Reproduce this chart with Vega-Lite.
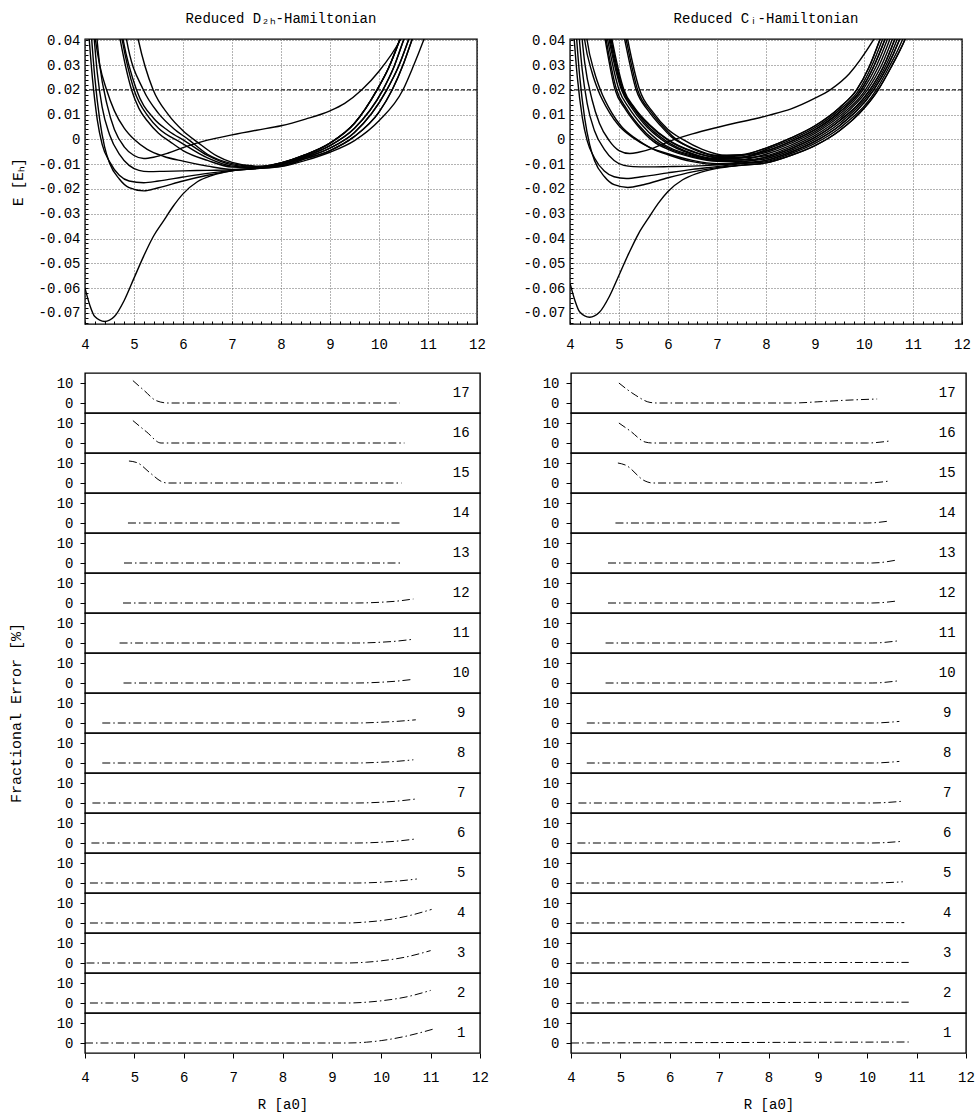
{
  "$schema": "https://vega.github.io/schema/vega-lite/v6.json",
  "background": "white",
  "padding": {"left": 8, "top": 11, "right": 5, "bottom": 5},
  "config": {
    "font": "Liberation Mono",
    "view": {"stroke": "black", "strokeWidth": 1.4},
    "axis": {"labelFont": "Liberation Mono", "labelFontSize": 14, "labelColor": "black", "titleFont": "Liberation Mono", "titleFontSize": 14, "titleFontWeight": "normal", "titleColor": "black", "tickColor": "black", "domain": false, "grid": false, "labelOverlap": false, "labelFlush": false},
    "header": {"titleFont": "Liberation Mono", "titleFontSize": 15, "titleFontWeight": "normal", "titleColor": "black"},
    "title": {"font": "Liberation Mono", "fontSize": 14, "fontWeight": "normal", "color": "black"}
  },
  "datasets": {
    "curves": [
      {"panel":"D","curve":"g","R":4,"E":-0.06},{"panel":"D","curve":"g","R":4.1,"E":-0.067},{"panel":"D","curve":"g","R":4.2,"E":-0.0715},{"panel":"D","curve":"g","R":4.4,"E":-0.0735},{"panel":"D","curve":"g","R":4.6,"E":-0.0715},{"panel":"D","curve":"g","R":4.8,"E":-0.065},{"panel":"D","curve":"g","R":5,"E":-0.056},{"panel":"D","curve":"g","R":5.2,"E":-0.047},{"panel":"D","curve":"g","R":5.4,"E":-0.039},{"panel":"D","curve":"g","R":5.6,"E":-0.033},{"panel":"D","curve":"g","R":5.8,"E":-0.027},{"panel":"D","curve":"g","R":6,"E":-0.022},{"panel":"D","curve":"g","R":6.3,"E":-0.017},{"panel":"D","curve":"g","R":6.6,"E":-0.0145},{"panel":"D","curve":"g","R":7,"E":-0.0127},{"panel":"D","curve":"g","R":7.5,"E":-0.0118},{"panel":"D","curve":"g","R":8,"E":-0.011},{"panel":"D","curve":"g","R":8.5,"E":-0.0085},{"panel":"D","curve":"g","R":9,"E":-0.0052},{"panel":"D","curve":"g","R":9.5,"E":-0.0005},{"panel":"D","curve":"g","R":10,"E":0.0075},{"panel":"D","curve":"g","R":10.49,"E":0.02},{"panel":"D","curve":"g","R":10.7,"E":0.0295},{"panel":"D","curve":"g","R":10.91,"E":0.04},{"panel":"D","curve":"g","R":11.2,"E":0.056},
      {"panel":"D","curve":"c2","R":4.1,"E":0.05},{"panel":"D","curve":"c2","R":4.2,"E":0.025},{"panel":"D","curve":"c2","R":4.3,"E":0.008},{"panel":"D","curve":"c2","R":4.4,"E":-0.003},{"panel":"D","curve":"c2","R":4.5,"E":-0.0095},{"panel":"D","curve":"c2","R":4.7,"E":-0.016},{"panel":"D","curve":"c2","R":4.9,"E":-0.0195},{"panel":"D","curve":"c2","R":5.2,"E":-0.0208},{"panel":"D","curve":"c2","R":5.5,"E":-0.0195},{"panel":"D","curve":"c2","R":6,"E":-0.0168},{"panel":"D","curve":"c2","R":6.5,"E":-0.0145},{"panel":"D","curve":"c2","R":7,"E":-0.0127},{"panel":"D","curve":"c2","R":7.5,"E":-0.0118},{"panel":"D","curve":"c2","R":8,"E":-0.0107},{"panel":"D","curve":"c2","R":8.5,"E":-0.0078},{"panel":"D","curve":"c2","R":9,"E":-0.0045},{"panel":"D","curve":"c2","R":9.5,"E":0.0012},{"panel":"D","curve":"c2","R":10,"E":0.011},{"panel":"D","curve":"c2","R":10.27,"E":0.02},{"panel":"D","curve":"c2","R":10.5,"E":0.0305},{"panel":"D","curve":"c2","R":10.67,"E":0.04},{"panel":"D","curve":"c2","R":11,"E":0.059},
      {"panel":"D","curve":"c3","R":4.05,"E":0.05},{"panel":"D","curve":"c3","R":4.15,"E":0.025},{"panel":"D","curve":"c3","R":4.25,"E":0.008},{"panel":"D","curve":"c3","R":4.35,"E":-0.002},{"panel":"D","curve":"c3","R":4.5,"E":-0.009},{"panel":"D","curve":"c3","R":4.7,"E":-0.0145},{"panel":"D","curve":"c3","R":4.9,"E":-0.0168},{"panel":"D","curve":"c3","R":5.2,"E":-0.0175},{"panel":"D","curve":"c3","R":5.5,"E":-0.0168},{"panel":"D","curve":"c3","R":6,"E":-0.0152},{"panel":"D","curve":"c3","R":6.5,"E":-0.0137},{"panel":"D","curve":"c3","R":7,"E":-0.0125},{"panel":"D","curve":"c3","R":7.5,"E":-0.0116},{"panel":"D","curve":"c3","R":8,"E":-0.0103},{"panel":"D","curve":"c3","R":8.5,"E":-0.0073},{"panel":"D","curve":"c3","R":9,"E":-0.0035},{"panel":"D","curve":"c3","R":9.5,"E":0.0028},{"panel":"D","curve":"c3","R":10.16,"E":0.02},{"panel":"D","curve":"c3","R":10.4,"E":0.0295},{"panel":"D","curve":"c3","R":10.6,"E":0.04},{"panel":"D","curve":"c3","R":10.9,"E":0.057},
      {"panel":"D","curve":"c4","R":4.15,"E":0.05},{"panel":"D","curve":"c4","R":4.25,"E":0.027},{"panel":"D","curve":"c4","R":4.35,"E":0.013},{"panel":"D","curve":"c4","R":4.5,"E":0.002},{"panel":"D","curve":"c4","R":4.7,"E":-0.006},{"panel":"D","curve":"c4","R":4.9,"E":-0.0105},{"panel":"D","curve":"c4","R":5.1,"E":-0.0125},{"panel":"D","curve":"c4","R":5.3,"E":-0.013},{"panel":"D","curve":"c4","R":5.6,"E":-0.0129},{"panel":"D","curve":"c4","R":6,"E":-0.0127},{"panel":"D","curve":"c4","R":6.5,"E":-0.0125},{"panel":"D","curve":"c4","R":7,"E":-0.0123},{"panel":"D","curve":"c4","R":7.5,"E":-0.0117},{"panel":"D","curve":"c4","R":8,"E":-0.01},{"panel":"D","curve":"c4","R":8.5,"E":-0.0068},{"panel":"D","curve":"c4","R":9,"E":-0.0025},{"panel":"D","curve":"c4","R":9.5,"E":0.0045},{"panel":"D","curve":"c4","R":10.08,"E":0.02},{"panel":"D","curve":"c4","R":10.3,"E":0.029},{"panel":"D","curve":"c4","R":10.5,"E":0.04},{"panel":"D","curve":"c4","R":10.8,"E":0.057},
      {"panel":"D","curve":"c5","R":4.2,"E":0.05},{"panel":"D","curve":"c5","R":4.3,"E":0.03},{"panel":"D","curve":"c5","R":4.45,"E":0.014},{"panel":"D","curve":"c5","R":4.6,"E":0.004},{"panel":"D","curve":"c5","R":4.8,"E":-0.003},{"panel":"D","curve":"c5","R":5,"E":-0.0065},{"panel":"D","curve":"c5","R":5.2,"E":-0.0077},{"panel":"D","curve":"c5","R":5.4,"E":-0.0072},{"panel":"D","curve":"c5","R":5.7,"E":-0.0055},{"panel":"D","curve":"c5","R":6,"E":-0.0033},{"panel":"D","curve":"c5","R":6.5,"E":-0.0003},{"panel":"D","curve":"c5","R":7,"E":0.0018},{"panel":"D","curve":"c5","R":7.5,"E":0.0037},{"panel":"D","curve":"c5","R":8,"E":0.0055},{"panel":"D","curve":"c5","R":8.5,"E":0.0082},{"panel":"D","curve":"c5","R":9,"E":0.0115},{"panel":"D","curve":"c5","R":9.3,"E":0.0145},{"panel":"D","curve":"c5","R":9.65,"E":0.02},{"panel":"D","curve":"c5","R":10,"E":0.0275},{"panel":"D","curve":"c5","R":10.43,"E":0.04},{"panel":"D","curve":"c5","R":10.6,"E":0.047},
      {"panel":"D","curve":"c6","R":4.1,"E":0.06},{"panel":"D","curve":"c6","R":4.2,"E":0.042},{"panel":"D","curve":"c6","R":4.3,"E":0.03},{"panel":"D","curve":"c6","R":4.44,"E":0.02},{"panel":"D","curve":"c6","R":4.6,"E":0.0115},{"panel":"D","curve":"c6","R":4.8,"E":0.0045},{"panel":"D","curve":"c6","R":5,"E":0},{"panel":"D","curve":"c6","R":5.27,"E":-0.004},{"panel":"D","curve":"c6","R":5.6,"E":-0.0068},{"panel":"D","curve":"c6","R":6,"E":-0.0088},{"panel":"D","curve":"c6","R":6.5,"E":-0.0108},{"panel":"D","curve":"c6","R":7,"E":-0.0121},{"panel":"D","curve":"c6","R":7.5,"E":-0.0117},{"panel":"D","curve":"c6","R":8,"E":-0.0103},{"panel":"D","curve":"c6","R":8.5,"E":-0.0073},{"panel":"D","curve":"c6","R":9,"E":-0.0035},{"panel":"D","curve":"c6","R":9.5,"E":0.0028},{"panel":"D","curve":"c6","R":10.16,"E":0.02},{"panel":"D","curve":"c6","R":10.4,"E":0.0295},{"panel":"D","curve":"c6","R":10.6,"E":0.04},{"panel":"D","curve":"c6","R":10.9,"E":0.057},
      {"panel":"D","curve":"u1","R":4.55,"E":0.06},{"panel":"D","curve":"u1","R":4.72,"E":0.04},{"panel":"D","curve":"u1","R":4.95,"E":0.02},{"panel":"D","curve":"u1","R":5.1,"E":0.0125},{"panel":"D","curve":"u1","R":5.27,"E":0.0075},{"panel":"D","curve":"u1","R":5.5,"E":0.0025},{"panel":"D","curve":"u1","R":5.74,"E":-0.001},{"panel":"D","curve":"u1","R":6,"E":-0.0045},{"panel":"D","curve":"u1","R":6.5,"E":-0.0085},{"panel":"D","curve":"u1","R":7,"E":-0.0112},{"panel":"D","curve":"u1","R":7.5,"E":-0.0115},{"panel":"D","curve":"u1","R":8,"E":-0.01},{"panel":"D","curve":"u1","R":8.5,"E":-0.0068},{"panel":"D","curve":"u1","R":9,"E":-0.0025},{"panel":"D","curve":"u1","R":9.5,"E":0.0045},{"panel":"D","curve":"u1","R":10.08,"E":0.02},{"panel":"D","curve":"u1","R":10.3,"E":0.029},{"panel":"D","curve":"u1","R":10.5,"E":0.04},{"panel":"D","curve":"u1","R":10.8,"E":0.057},
      {"panel":"D","curve":"u2","R":4.6,"E":0.06},{"panel":"D","curve":"u2","R":4.76,"E":0.04},{"panel":"D","curve":"u2","R":5,"E":0.02},{"panel":"D","curve":"u2","R":5.3,"E":0.009},{"panel":"D","curve":"u2","R":5.5,"E":0.0045},{"panel":"D","curve":"u2","R":5.95,"E":-0.0012},{"panel":"D","curve":"u2","R":6.5,"E":-0.0075},{"panel":"D","curve":"u2","R":7,"E":-0.0108},{"panel":"D","curve":"u2","R":7.5,"E":-0.0113},{"panel":"D","curve":"u2","R":8,"E":-0.0095},{"panel":"D","curve":"u2","R":8.5,"E":-0.0062},{"panel":"D","curve":"u2","R":9,"E":-0.0015},{"panel":"D","curve":"u2","R":9.5,"E":0.0065},{"panel":"D","curve":"u2","R":9.96,"E":0.02},{"panel":"D","curve":"u2","R":10.2,"E":0.029},{"panel":"D","curve":"u2","R":10.42,"E":0.04},{"panel":"D","curve":"u2","R":10.7,"E":0.056},
      {"panel":"D","curve":"u3","R":4.62,"E":0.06},{"panel":"D","curve":"u3","R":4.78,"E":0.04},{"panel":"D","curve":"u3","R":5.05,"E":0.02},{"panel":"D","curve":"u3","R":5.4,"E":0.0085},{"panel":"D","curve":"u3","R":5.7,"E":0.0035},{"panel":"D","curve":"u3","R":6.05,"E":-0.0008},{"panel":"D","curve":"u3","R":6.5,"E":-0.0065},{"panel":"D","curve":"u3","R":7,"E":-0.0103},{"panel":"D","curve":"u3","R":7.5,"E":-0.0112},{"panel":"D","curve":"u3","R":8,"E":-0.0095},{"panel":"D","curve":"u3","R":8.5,"E":-0.0062},{"panel":"D","curve":"u3","R":9,"E":-0.0015},{"panel":"D","curve":"u3","R":9.5,"E":0.0065},{"panel":"D","curve":"u3","R":9.96,"E":0.02},{"panel":"D","curve":"u3","R":10.2,"E":0.029},{"panel":"D","curve":"u3","R":10.42,"E":0.04},{"panel":"D","curve":"u3","R":10.7,"E":0.056},
      {"panel":"D","curve":"u4","R":4.7,"E":0.06},{"panel":"D","curve":"u4","R":4.85,"E":0.04},{"panel":"D","curve":"u4","R":5.19,"E":0.02},{"panel":"D","curve":"u4","R":5.5,"E":0.0105},{"panel":"D","curve":"u4","R":5.8,"E":0.0045},{"panel":"D","curve":"u4","R":6.12,"E":-0.0002},{"panel":"D","curve":"u4","R":6.5,"E":-0.006},{"panel":"D","curve":"u4","R":7,"E":-0.0098},{"panel":"D","curve":"u4","R":7.5,"E":-0.011},{"panel":"D","curve":"u4","R":8,"E":-0.0095},{"panel":"D","curve":"u4","R":8.5,"E":-0.0062},{"panel":"D","curve":"u4","R":9,"E":-0.0015},{"panel":"D","curve":"u4","R":9.5,"E":0.0065},{"panel":"D","curve":"u4","R":9.96,"E":0.02},{"panel":"D","curve":"u4","R":10.2,"E":0.029},{"panel":"D","curve":"u4","R":10.42,"E":0.04},{"panel":"D","curve":"u4","R":10.7,"E":0.056},
      {"panel":"D","curve":"u5","R":4.9,"E":0.06},{"panel":"D","curve":"u5","R":5.09,"E":0.04},{"panel":"D","curve":"u5","R":5.39,"E":0.02},{"panel":"D","curve":"u5","R":5.7,"E":0.01},{"panel":"D","curve":"u5","R":6,"E":0.0035},{"panel":"D","curve":"u5","R":6.3,"E":-0.0012},{"panel":"D","curve":"u5","R":6.7,"E":-0.0068},{"panel":"D","curve":"u5","R":7,"E":-0.0093},{"panel":"D","curve":"u5","R":7.5,"E":-0.0108},{"panel":"D","curve":"u5","R":8,"E":-0.0107},{"panel":"D","curve":"u5","R":8.5,"E":-0.0078},{"panel":"D","curve":"u5","R":9,"E":-0.0045},{"panel":"D","curve":"u5","R":9.5,"E":0.0012},{"panel":"D","curve":"u5","R":10,"E":0.011},{"panel":"D","curve":"u5","R":10.27,"E":0.02},{"panel":"D","curve":"u5","R":10.5,"E":0.0305},{"panel":"D","curve":"u5","R":10.67,"E":0.04},{"panel":"D","curve":"u5","R":11,"E":0.059},

      {"panel":"C","curve":"g","R":4,"E":-0.058},{"panel":"C","curve":"g","R":4.1,"E":-0.065},{"panel":"C","curve":"g","R":4.2,"E":-0.0697},{"panel":"C","curve":"g","R":4.4,"E":-0.0718},{"panel":"C","curve":"g","R":4.6,"E":-0.0698},{"panel":"C","curve":"g","R":4.8,"E":-0.0635},{"panel":"C","curve":"g","R":5,"E":-0.0548},{"panel":"C","curve":"g","R":5.2,"E":-0.046},{"panel":"C","curve":"g","R":5.4,"E":-0.038},{"panel":"C","curve":"g","R":5.6,"E":-0.0318},{"panel":"C","curve":"g","R":5.8,"E":-0.0258},{"panel":"C","curve":"g","R":6,"E":-0.021},{"panel":"C","curve":"g","R":6.3,"E":-0.0163},{"panel":"C","curve":"g","R":6.6,"E":-0.0137},{"panel":"C","curve":"g","R":7,"E":-0.0117},{"panel":"C","curve":"g","R":7.5,"E":-0.0105},{"panel":"C","curve":"g","R":8,"E":-0.0095},{"panel":"C","curve":"g","R":8.5,"E":-0.0065},{"panel":"C","curve":"g","R":9,"E":-0.0025},{"panel":"C","curve":"g","R":9.5,"E":0.0035},{"panel":"C","curve":"g","R":10,"E":0.0125},{"panel":"C","curve":"g","R":10.29,"E":0.02},{"panel":"C","curve":"g","R":10.55,"E":0.029},{"panel":"C","curve":"g","R":10.83,"E":0.04},{"panel":"C","curve":"g","R":11.1,"E":0.054},
      {"panel":"C","curve":"c2","R":4.1,"E":0.05},{"panel":"C","curve":"c2","R":4.2,"E":0.025},{"panel":"C","curve":"c2","R":4.3,"E":0.0085},{"panel":"C","curve":"c2","R":4.4,"E":-0.002},{"panel":"C","curve":"c2","R":4.5,"E":-0.0085},{"panel":"C","curve":"c2","R":4.7,"E":-0.015},{"panel":"C","curve":"c2","R":4.9,"E":-0.0183},{"panel":"C","curve":"c2","R":5.18,"E":-0.0194},{"panel":"C","curve":"c2","R":5.5,"E":-0.0183},{"panel":"C","curve":"c2","R":6,"E":-0.0155},{"panel":"C","curve":"c2","R":6.5,"E":-0.0131},{"panel":"C","curve":"c2","R":7,"E":-0.0114},{"panel":"C","curve":"c2","R":7.5,"E":-0.0104},{"panel":"C","curve":"c2","R":8,"E":-0.0095},{"panel":"C","curve":"c2","R":8.5,"E":-0.0065},{"panel":"C","curve":"c2","R":9,"E":-0.0025},{"panel":"C","curve":"c2","R":9.5,"E":0.0035},{"panel":"C","curve":"c2","R":10,"E":0.0125},{"panel":"C","curve":"c2","R":10.29,"E":0.02},{"panel":"C","curve":"c2","R":10.55,"E":0.029},{"panel":"C","curve":"c2","R":10.83,"E":0.04},{"panel":"C","curve":"c2","R":11.1,"E":0.054},
      {"panel":"C","curve":"c3","R":4.05,"E":0.05},{"panel":"C","curve":"c3","R":4.15,"E":0.025},{"panel":"C","curve":"c3","R":4.25,"E":0.009},{"panel":"C","curve":"c3","R":4.35,"E":-0.0005},{"panel":"C","curve":"c3","R":4.5,"E":-0.0075},{"panel":"C","curve":"c3","R":4.7,"E":-0.0128},{"panel":"C","curve":"c3","R":4.9,"E":-0.0151},{"panel":"C","curve":"c3","R":5.15,"E":-0.0158},{"panel":"C","curve":"c3","R":5.5,"E":-0.015},{"panel":"C","curve":"c3","R":6,"E":-0.0135},{"panel":"C","curve":"c3","R":6.5,"E":-0.0121},{"panel":"C","curve":"c3","R":7,"E":-0.011},{"panel":"C","curve":"c3","R":7.5,"E":-0.0098},{"panel":"C","curve":"c3","R":8,"E":-0.0085},{"panel":"C","curve":"c3","R":8.5,"E":-0.0052},{"panel":"C","curve":"c3","R":9,"E":-0.0008},{"panel":"C","curve":"c3","R":9.5,"E":0.0055},{"panel":"C","curve":"c3","R":10.2,"E":0.02},{"panel":"C","curve":"c3","R":10.48,"E":0.0295},{"panel":"C","curve":"c3","R":10.72,"E":0.04},{"panel":"C","curve":"c3","R":11,"E":0.055},
      {"panel":"C","curve":"c4","R":4.15,"E":0.05},{"panel":"C","curve":"c4","R":4.25,"E":0.028},{"panel":"C","curve":"c4","R":4.35,"E":0.0145},{"panel":"C","curve":"c4","R":4.5,"E":0.0035},{"panel":"C","curve":"c4","R":4.7,"E":-0.004},{"panel":"C","curve":"c4","R":4.9,"E":-0.0085},{"panel":"C","curve":"c4","R":5.1,"E":-0.0105},{"panel":"C","curve":"c4","R":5.29,"E":-0.011},{"panel":"C","curve":"c4","R":5.6,"E":-0.0111},{"panel":"C","curve":"c4","R":6,"E":-0.011},{"panel":"C","curve":"c4","R":6.5,"E":-0.0108},{"panel":"C","curve":"c4","R":7,"E":-0.0103},{"panel":"C","curve":"c4","R":7.5,"E":-0.0095},{"panel":"C","curve":"c4","R":8,"E":-0.0085},{"panel":"C","curve":"c4","R":8.5,"E":-0.0052},{"panel":"C","curve":"c4","R":9,"E":-0.0008},{"panel":"C","curve":"c4","R":9.5,"E":0.0055},{"panel":"C","curve":"c4","R":10.2,"E":0.02},{"panel":"C","curve":"c4","R":10.48,"E":0.0295},{"panel":"C","curve":"c4","R":10.72,"E":0.04},{"panel":"C","curve":"c4","R":11,"E":0.055},
      {"panel":"C","curve":"c5","R":4.2,"E":0.05},{"panel":"C","curve":"c5","R":4.3,"E":0.031},{"panel":"C","curve":"c5","R":4.45,"E":0.016},{"panel":"C","curve":"c5","R":4.6,"E":0.0065},{"panel":"C","curve":"c5","R":4.8,"E":-0.0005},{"panel":"C","curve":"c5","R":5,"E":-0.0045},{"panel":"C","curve":"c5","R":5.22,"E":-0.0057},{"panel":"C","curve":"c5","R":5.4,"E":-0.0052},{"panel":"C","curve":"c5","R":5.7,"E":-0.0035},{"panel":"C","curve":"c5","R":6,"E":-0.001},{"panel":"C","curve":"c5","R":6.5,"E":0.0022},{"panel":"C","curve":"c5","R":7,"E":0.0048},{"panel":"C","curve":"c5","R":7.4,"E":0.0067},{"panel":"C","curve":"c5","R":7.8,"E":0.0084},{"panel":"C","curve":"c5","R":8.05,"E":0.0097},{"panel":"C","curve":"c5","R":8.5,"E":0.0122},{"panel":"C","curve":"c5","R":9,"E":0.0166},{"panel":"C","curve":"c5","R":9.31,"E":0.02},{"panel":"C","curve":"c5","R":9.7,"E":0.0265},{"panel":"C","curve":"c5","R":10.19,"E":0.04},{"panel":"C","curve":"c5","R":10.4,"E":0.047},
      {"panel":"C","curve":"c6","R":4.2,"E":0.058},{"panel":"C","curve":"c6","R":4.3,"E":0.04},{"panel":"C","curve":"c6","R":4.45,"E":0.027},{"panel":"C","curve":"c6","R":4.57,"E":0.02},{"panel":"C","curve":"c6","R":4.8,"E":0.011},{"panel":"C","curve":"c6","R":5,"E":0.0055},{"panel":"C","curve":"c6","R":5.3,"E":0.0005},{"panel":"C","curve":"c6","R":5.6,"E":-0.003},{"panel":"C","curve":"c6","R":6,"E":-0.0058},{"panel":"C","curve":"c6","R":6.5,"E":-0.0085},{"panel":"C","curve":"c6","R":7,"E":-0.0098},{"panel":"C","curve":"c6","R":7.5,"E":-0.0092},{"panel":"C","curve":"c6","R":8,"E":-0.0072},{"panel":"C","curve":"c6","R":8.5,"E":-0.0038},{"panel":"C","curve":"c6","R":9,"E":0.0008},{"panel":"C","curve":"c6","R":9.5,"E":0.0075},{"panel":"C","curve":"c6","R":10.12,"E":0.02},{"panel":"C","curve":"c6","R":10.4,"E":0.0295},{"panel":"C","curve":"c6","R":10.62,"E":0.04},{"panel":"C","curve":"c6","R":10.9,"E":0.056},
      {"panel":"C","curve":"u1","R":4.58,"E":0.06},{"panel":"C","curve":"u1","R":4.74,"E":0.04},{"panel":"C","curve":"u1","R":4.95,"E":0.02},{"panel":"C","curve":"u1","R":5.15,"E":0.0125},{"panel":"C","curve":"u1","R":5.39,"E":0.006},{"panel":"C","curve":"u1","R":5.73,"E":-0.0005},{"panel":"C","curve":"u1","R":6,"E":-0.0035},{"panel":"C","curve":"u1","R":6.5,"E":-0.0068},{"panel":"C","curve":"u1","R":7,"E":-0.0085},{"panel":"C","curve":"u1","R":7.5,"E":-0.0082},{"panel":"C","curve":"u1","R":8,"E":-0.006},{"panel":"C","curve":"u1","R":8.5,"E":-0.0024},{"panel":"C","curve":"u1","R":9,"E":0.0024},{"panel":"C","curve":"u1","R":9.5,"E":0.0093},{"panel":"C","curve":"u1","R":10.03,"E":0.02},{"panel":"C","curve":"u1","R":10.3,"E":0.0295},{"panel":"C","curve":"u1","R":10.52,"E":0.04},{"panel":"C","curve":"u1","R":10.8,"E":0.056},
      {"panel":"C","curve":"u2","R":4.62,"E":0.06},{"panel":"C","curve":"u2","R":4.8,"E":0.04},{"panel":"C","curve":"u2","R":5.05,"E":0.02},{"panel":"C","curve":"u2","R":5.25,"E":0.013},{"panel":"C","curve":"u2","R":5.5,"E":0.0065},{"panel":"C","curve":"u2","R":5.9,"E":-0.0005},{"panel":"C","curve":"u2","R":6.5,"E":-0.006},{"panel":"C","curve":"u2","R":7,"E":-0.0078},{"panel":"C","curve":"u2","R":7.5,"E":-0.0072},{"panel":"C","curve":"u2","R":8,"E":-0.0047},{"panel":"C","curve":"u2","R":8.5,"E":-0.0009},{"panel":"C","curve":"u2","R":9,"E":0.0039},{"panel":"C","curve":"u2","R":9.5,"E":0.011},{"panel":"C","curve":"u2","R":9.94,"E":0.02},{"panel":"C","curve":"u2","R":10.2,"E":0.0295},{"panel":"C","curve":"u2","R":10.42,"E":0.04},{"panel":"C","curve":"u2","R":10.7,"E":0.056},
      {"panel":"C","curve":"u3","R":4.66,"E":0.06},{"panel":"C","curve":"u3","R":4.84,"E":0.04},{"panel":"C","curve":"u3","R":5.08,"E":0.02},{"panel":"C","curve":"u3","R":5.3,"E":0.0128},{"panel":"C","curve":"u3","R":5.6,"E":0.006},{"panel":"C","curve":"u3","R":6,"E":-0.0003},{"panel":"C","curve":"u3","R":6.5,"E":-0.005},{"panel":"C","curve":"u3","R":7,"E":-0.0072},{"panel":"C","curve":"u3","R":7.5,"E":-0.0065},{"panel":"C","curve":"u3","R":8,"E":-0.0035},{"panel":"C","curve":"u3","R":8.5,"E":0.0005},{"panel":"C","curve":"u3","R":9,"E":0.0055},{"panel":"C","curve":"u3","R":9.5,"E":0.0128},{"panel":"C","curve":"u3","R":9.85,"E":0.02},{"panel":"C","curve":"u3","R":10.1,"E":0.029},{"panel":"C","curve":"u3","R":10.32,"E":0.04},{"panel":"C","curve":"u3","R":10.6,"E":0.056},
      {"panel":"C","curve":"u4","R":4.93,"E":0.06},{"panel":"C","curve":"u4","R":5.12,"E":0.04},{"panel":"C","curve":"u4","R":5.35,"E":0.02},{"panel":"C","curve":"u4","R":5.6,"E":0.0115},{"panel":"C","curve":"u4","R":5.85,"E":0.0055},{"panel":"C","curve":"u4","R":6.07,"E":0.001},{"panel":"C","curve":"u4","R":6.5,"E":-0.0035},{"panel":"C","curve":"u4","R":7,"E":-0.0065},{"panel":"C","curve":"u4","R":7.5,"E":-0.0062},{"panel":"C","curve":"u4","R":8,"E":-0.0035},{"panel":"C","curve":"u4","R":8.5,"E":0.0005},{"panel":"C","curve":"u4","R":9,"E":0.0055},{"panel":"C","curve":"u4","R":9.5,"E":0.0128},{"panel":"C","curve":"u4","R":9.85,"E":0.02},{"panel":"C","curve":"u4","R":10.1,"E":0.029},{"panel":"C","curve":"u4","R":10.32,"E":0.04},{"panel":"C","curve":"u4","R":10.6,"E":0.056},
      {"panel":"C","curve":"u5","R":5,"E":0.06},{"panel":"C","curve":"u5","R":5.18,"E":0.04},{"panel":"C","curve":"u5","R":5.42,"E":0.02},{"panel":"C","curve":"u5","R":5.7,"E":0.0108},{"panel":"C","curve":"u5","R":6,"E":0.004},{"panel":"C","curve":"u5","R":6.3,"E":0},{"panel":"C","curve":"u5","R":6.7,"E":-0.004},{"panel":"C","curve":"u5","R":7.2,"E":-0.0065},{"panel":"C","curve":"u5","R":7.6,"E":-0.0062},{"panel":"C","curve":"u5","R":8,"E":-0.0047},{"panel":"C","curve":"u5","R":8.5,"E":-0.0009},{"panel":"C","curve":"u5","R":9,"E":0.0039},{"panel":"C","curve":"u5","R":9.5,"E":0.011},{"panel":"C","curve":"u5","R":9.94,"E":0.02},{"panel":"C","curve":"u5","R":10.2,"E":0.0295},{"panel":"C","curve":"u5","R":10.42,"E":0.04},{"panel":"C","curve":"u5","R":10.7,"E":0.056},
      {"panel":"C","curve":"u6","R":4.64,"E":0.06},{"panel":"C","curve":"u6","R":4.82,"E":0.04},{"panel":"C","curve":"u6","R":5.07,"E":0.02},{"panel":"C","curve":"u6","R":5.28,"E":0.013},{"panel":"C","curve":"u6","R":5.55,"E":0.0062},{"panel":"C","curve":"u6","R":5.95,"E":-0.0005},{"panel":"C","curve":"u6","R":6.5,"E":-0.0058},{"panel":"C","curve":"u6","R":7,"E":-0.0082},{"panel":"C","curve":"u6","R":7.5,"E":-0.0083},{"panel":"C","curve":"u6","R":8,"E":-0.0072},{"panel":"C","curve":"u6","R":8.5,"E":-0.0038},{"panel":"C","curve":"u6","R":9,"E":0.0008},{"panel":"C","curve":"u6","R":9.5,"E":0.0075},{"panel":"C","curve":"u6","R":10.12,"E":0.02},{"panel":"C","curve":"u6","R":10.4,"E":0.0295},{"panel":"C","curve":"u6","R":10.62,"E":0.04},{"panel":"C","curve":"u6","R":10.9,"E":0.056},
      {"panel":"C","curve":"u7","R":4.6,"E":0.06},{"panel":"C","curve":"u7","R":4.77,"E":0.04},{"panel":"C","curve":"u7","R":5,"E":0.02},{"panel":"C","curve":"u7","R":5.2,"E":0.0128},{"panel":"C","curve":"u7","R":5.45,"E":0.0062},{"panel":"C","curve":"u7","R":5.8,"E":-0.0005},{"panel":"C","curve":"u7","R":6.5,"E":-0.0064},{"panel":"C","curve":"u7","R":7,"E":-0.008},{"panel":"C","curve":"u7","R":7.5,"E":-0.0075},{"panel":"C","curve":"u7","R":8,"E":-0.0041},{"panel":"C","curve":"u7","R":8.5,"E":-0.0002},{"panel":"C","curve":"u7","R":9,"E":0.0047},{"panel":"C","curve":"u7","R":9.5,"E":0.0119},{"panel":"C","curve":"u7","R":9.9,"E":0.02},{"panel":"C","curve":"u7","R":10.15,"E":0.0293},{"panel":"C","curve":"u7","R":10.37,"E":0.04},{"panel":"C","curve":"u7","R":10.65,"E":0.056},
      {"panel":"C","curve":"u8","R":4.68,"E":0.06},{"panel":"C","curve":"u8","R":4.86,"E":0.04},{"panel":"C","curve":"u8","R":5.1,"E":0.02},{"panel":"C","curve":"u8","R":5.32,"E":0.0127},{"panel":"C","curve":"u8","R":5.62,"E":0.006},{"panel":"C","curve":"u8","R":6.02,"E":-0.0004},{"panel":"C","curve":"u8","R":6.5,"E":-0.0048},{"panel":"C","curve":"u8","R":7,"E":-0.0073},{"panel":"C","curve":"u8","R":7.5,"E":-0.0072},{"panel":"C","curve":"u8","R":8,"E":-0.0053},{"panel":"C","curve":"u8","R":8.5,"E":-0.0016},{"panel":"C","curve":"u8","R":9,"E":0.0031},{"panel":"C","curve":"u8","R":9.5,"E":0.0101},{"panel":"C","curve":"u8","R":9.98,"E":0.02},{"panel":"C","curve":"u8","R":10.25,"E":0.0295},{"panel":"C","curve":"u8","R":10.47,"E":0.04},{"panel":"C","curve":"u8","R":10.75,"E":0.056},
      {"panel":"C","curve":"u9","R":4.96,"E":0.06},{"panel":"C","curve":"u9","R":5.15,"E":0.04},{"panel":"C","curve":"u9","R":5.38,"E":0.02},{"panel":"C","curve":"u9","R":5.65,"E":0.0112},{"panel":"C","curve":"u9","R":5.9,"E":0.0052},{"panel":"C","curve":"u9","R":6.12,"E":0.0008},{"panel":"C","curve":"u9","R":6.5,"E":-0.0038},{"panel":"C","curve":"u9","R":7,"E":-0.0068},{"panel":"C","curve":"u9","R":7.5,"E":-0.0074},{"panel":"C","curve":"u9","R":8,"E":-0.0066},{"panel":"C","curve":"u9","R":8.5,"E":-0.0031},{"panel":"C","curve":"u9","R":9,"E":0.0016},{"panel":"C","curve":"u9","R":9.5,"E":0.0084},{"panel":"C","curve":"u9","R":10.07,"E":0.02},{"panel":"C","curve":"u9","R":10.35,"E":0.0295},{"panel":"C","curve":"u9","R":10.57,"E":0.04},{"panel":"C","curve":"u9","R":10.85,"E":0.056},
      {"panel":"C","curve":"u10","R":4.56,"E":0.06},{"panel":"C","curve":"u10","R":4.72,"E":0.04},{"panel":"C","curve":"u10","R":4.92,"E":0.02},{"panel":"C","curve":"u10","R":5.12,"E":0.0125},{"panel":"C","curve":"u10","R":5.36,"E":0.006},{"panel":"C","curve":"u10","R":5.7,"E":-0.0008},{"panel":"C","curve":"u10","R":6,"E":-0.004},{"panel":"C","curve":"u10","R":6.5,"E":-0.0072},{"panel":"C","curve":"u10","R":7,"E":-0.0088},{"panel":"C","curve":"u10","R":7.5,"E":-0.0088},{"panel":"C","curve":"u10","R":8,"E":-0.0078},{"panel":"C","curve":"u10","R":8.5,"E":-0.0045},{"panel":"C","curve":"u10","R":9,"E":0},{"panel":"C","curve":"u10","R":9.5,"E":0.0065},{"panel":"C","curve":"u10","R":10.16,"E":0.02},{"panel":"C","curve":"u10","R":10.44,"E":0.0295},{"panel":"C","curve":"u10","R":10.67,"E":0.04},{"panel":"C","curve":"u10","R":10.95,"E":0.0555},
      {"panel":"C","curve":"u11","R":4.25,"E":0.058},{"panel":"C","curve":"u11","R":4.35,"E":0.04},{"panel":"C","curve":"u11","R":4.5,"E":0.027},{"panel":"C","curve":"u11","R":4.62,"E":0.02},{"panel":"C","curve":"u11","R":4.85,"E":0.0108},{"panel":"C","curve":"u11","R":5.05,"E":0.0052},{"panel":"C","curve":"u11","R":5.35,"E":0.0002},{"panel":"C","curve":"u11","R":5.65,"E":-0.0035},{"panel":"C","curve":"u11","R":6,"E":-0.0062},{"panel":"C","curve":"u11","R":6.5,"E":-0.009},{"panel":"C","curve":"u11","R":7,"E":-0.0102},{"panel":"C","curve":"u11","R":7.5,"E":-0.0097},{"panel":"C","curve":"u11","R":8,"E":-0.009},{"panel":"C","curve":"u11","R":8.5,"E":-0.0058},{"panel":"C","curve":"u11","R":9,"E":-0.0016},{"panel":"C","curve":"u11","R":9.5,"E":0.0045},{"panel":"C","curve":"u11","R":10.25,"E":0.02},{"panel":"C","curve":"u11","R":10.52,"E":0.0295},{"panel":"C","curve":"u11","R":10.78,"E":0.04},{"panel":"C","curve":"u11","R":11.05,"E":0.055}
    ],
    "strips": [
      {"panel":"D","state":17,"R":4.97,"err":11.2},{"panel":"D","state":17,"R":5.2,"err":6.2},{"panel":"D","state":17,"R":5.44,"err":1.2},{"panel":"D","state":17,"R":5.68,"err":0},{"panel":"D","state":17,"R":10.38,"err":0},
      {"panel":"D","state":16,"R":4.97,"err":11.2},{"panel":"D","state":16,"R":5.25,"err":5.5},{"panel":"D","state":16,"R":5.54,"err":0},{"panel":"D","state":16,"R":10.47,"err":0},
      {"panel":"D","state":15,"R":4.89,"err":11},{"panel":"D","state":15,"R":5.07,"err":10},{"panel":"D","state":15,"R":5.32,"err":5},{"panel":"D","state":15,"R":5.57,"err":0.5},{"panel":"D","state":15,"R":5.67,"err":0},{"panel":"D","state":15,"R":10.41,"err":0},
      {"panel":"D","state":14,"R":4.87,"err":0},{"panel":"D","state":14,"R":10.41,"err":0},
      {"panel":"D","state":13,"R":4.79,"err":0},{"panel":"D","state":13,"R":10.44,"err":0},
      {"panel":"D","state":12,"R":4.77,"err":0},{"panel":"D","state":12,"R":9.5,"err":0},{"panel":"D","state":12,"R":10,"err":0.4},{"panel":"D","state":12,"R":10.3,"err":0.9},{"panel":"D","state":12,"R":10.65,"err":2},
      {"panel":"D","state":11,"R":4.7,"err":0},{"panel":"D","state":11,"R":9.5,"err":0},{"panel":"D","state":11,"R":10,"err":0.4},{"panel":"D","state":11,"R":10.3,"err":0.9},{"panel":"D","state":11,"R":10.62,"err":1.8},
      {"panel":"D","state":10,"R":4.78,"err":0},{"panel":"D","state":10,"R":9.5,"err":0},{"panel":"D","state":10,"R":10,"err":0.4},{"panel":"D","state":10,"R":10.3,"err":0.9},{"panel":"D","state":10,"R":10.6,"err":1.7},
      {"panel":"D","state":9,"R":4.35,"err":0},{"panel":"D","state":9,"R":9.5,"err":0},{"panel":"D","state":9,"R":10,"err":0.4},{"panel":"D","state":9,"R":10.3,"err":0.8},{"panel":"D","state":9,"R":10.7,"err":1.6},
      {"panel":"D","state":8,"R":4.35,"err":0},{"panel":"D","state":8,"R":9.5,"err":0},{"panel":"D","state":8,"R":10,"err":0.4},{"panel":"D","state":8,"R":10.3,"err":0.8},{"panel":"D","state":8,"R":10.65,"err":1.6},
      {"panel":"D","state":7,"R":4.15,"err":0},{"panel":"D","state":7,"R":9.5,"err":0},{"panel":"D","state":7,"R":10,"err":0.4},{"panel":"D","state":7,"R":10.3,"err":0.9},{"panel":"D","state":7,"R":10.7,"err":2},
      {"panel":"D","state":6,"R":4.13,"err":0},{"panel":"D","state":6,"R":9.5,"err":0},{"panel":"D","state":6,"R":10,"err":0.4},{"panel":"D","state":6,"R":10.3,"err":0.9},{"panel":"D","state":6,"R":10.69,"err":2},
      {"panel":"D","state":5,"R":4.1,"err":0},{"panel":"D","state":5,"R":9.5,"err":0},{"panel":"D","state":5,"R":10,"err":0.4},{"panel":"D","state":5,"R":10.3,"err":0.9},{"panel":"D","state":5,"R":10.72,"err":2},
      {"panel":"D","state":4,"R":4.1,"err":0},{"panel":"D","state":4,"R":9.3,"err":0},{"panel":"D","state":4,"R":9.7,"err":0.5},{"panel":"D","state":4,"R":10,"err":1.2},{"panel":"D","state":4,"R":10.5,"err":3.3},{"panel":"D","state":4,"R":11.02,"err":6.8},
      {"panel":"D","state":3,"R":4.03,"err":0},{"panel":"D","state":3,"R":9.3,"err":0},{"panel":"D","state":3,"R":9.7,"err":0.4},{"panel":"D","state":3,"R":10,"err":1.1},{"panel":"D","state":3,"R":10.5,"err":3},{"panel":"D","state":3,"R":11,"err":6.2},
      {"panel":"D","state":2,"R":4.1,"err":0},{"panel":"D","state":2,"R":9.3,"err":0},{"panel":"D","state":2,"R":9.7,"err":0.4},{"panel":"D","state":2,"R":10,"err":1.1},{"panel":"D","state":2,"R":10.5,"err":3},{"panel":"D","state":2,"R":11,"err":6.3},
      {"panel":"D","state":1,"R":4,"err":0},{"panel":"D","state":1,"R":9.3,"err":0},{"panel":"D","state":1,"R":9.7,"err":0.4},{"panel":"D","state":1,"R":10,"err":1.2},{"panel":"D","state":1,"R":10.5,"err":3.4},{"panel":"D","state":1,"R":11.06,"err":7},

      {"panel":"C","state":17,"R":4.97,"err":10},{"panel":"C","state":17,"R":5.3,"err":4},{"panel":"C","state":17,"R":5.6,"err":0.3},{"panel":"C","state":17,"R":5.75,"err":0},{"panel":"C","state":17,"R":8.5,"err":0},{"panel":"C","state":17,"R":9,"err":0.6},{"panel":"C","state":17,"R":9.5,"err":1.3},{"panel":"C","state":17,"R":10.2,"err":2},
      {"panel":"C","state":16,"R":4.97,"err":10},{"panel":"C","state":16,"R":5.2,"err":6},{"panel":"C","state":16,"R":5.5,"err":0.5},{"panel":"C","state":16,"R":5.65,"err":0},{"panel":"C","state":16,"R":10,"err":0},{"panel":"C","state":16,"R":10.45,"err":1},
      {"panel":"C","state":15,"R":4.95,"err":10},{"panel":"C","state":15,"R":5.1,"err":9},{"panel":"C","state":15,"R":5.5,"err":1},{"panel":"C","state":15,"R":5.65,"err":0},{"panel":"C","state":15,"R":10,"err":0},{"panel":"C","state":15,"R":10.45,"err":1},
      {"panel":"C","state":14,"R":4.9,"err":0},{"panel":"C","state":14,"R":10,"err":0},{"panel":"C","state":14,"R":10.45,"err":1},
      {"panel":"C","state":13,"R":4.75,"err":0},{"panel":"C","state":13,"R":10.1,"err":0},{"panel":"C","state":13,"R":10.6,"err":1.5},
      {"panel":"C","state":12,"R":4.75,"err":0},{"panel":"C","state":12,"R":10.1,"err":0},{"panel":"C","state":12,"R":10.6,"err":1},
      {"panel":"C","state":11,"R":4.7,"err":0},{"panel":"C","state":11,"R":10.1,"err":0},{"panel":"C","state":11,"R":10.6,"err":1},
      {"panel":"C","state":10,"R":4.7,"err":0},{"panel":"C","state":10,"R":10.1,"err":0},{"panel":"C","state":10,"R":10.6,"err":1},
      {"panel":"C","state":9,"R":4.32,"err":0},{"panel":"C","state":9,"R":10.1,"err":0},{"panel":"C","state":9,"R":10.65,"err":0.8},
      {"panel":"C","state":8,"R":4.32,"err":0},{"panel":"C","state":8,"R":10.1,"err":0},{"panel":"C","state":8,"R":10.65,"err":0.8},
      {"panel":"C","state":7,"R":4.15,"err":0},{"panel":"C","state":7,"R":10.1,"err":0},{"panel":"C","state":7,"R":10.68,"err":0.8},
      {"panel":"C","state":6,"R":4.13,"err":0},{"panel":"C","state":6,"R":10.1,"err":0},{"panel":"C","state":6,"R":10.69,"err":0.8},
      {"panel":"C","state":5,"R":4.1,"err":0},{"panel":"C","state":5,"R":10.1,"err":0},{"panel":"C","state":5,"R":10.72,"err":0.6},
      {"panel":"C","state":4,"R":4.1,"err":0},{"panel":"C","state":4,"R":10.75,"err":0.2},
      {"panel":"C","state":3,"R":4.1,"err":0},{"panel":"C","state":3,"R":10.84,"err":0.3},
      {"panel":"C","state":2,"R":4.1,"err":0},{"panel":"C","state":2,"R":10.84,"err":0.4},
      {"panel":"C","state":1,"R":4,"err":0},{"panel":"C","state":1,"R":10.84,"err":0.5}
    ]
  },
  "spacing": 20,
  "vconcat": [
    {
      "spacing": 35,
      "hconcat": [
        {
          "width": 392, "height": 285,
          "title": {"text": "Reduced D₂ₕ-Hamiltonian", "fontSize": 14, "offset": 7},
          "data": {"name": "curves"},
          "transform": [{"filter": "datum.panel === 'D'"}],
          "layer": [
            {
              "mark": {"type": "line", "clip": true, "color": "black", "strokeWidth": 1.4, "interpolate": "monotone"},
              "encoding": {
                "x": {"field": "R", "type": "quantitative", "scale": {"domain": [4, 12], "nice": false},
                  "axis": {"title": null, "tickCount": 40, "tickSize": -3, "labelPadding": 16, "labelExpr": "abs(datum.value-round(datum.value))<0.001 ? toString(round(datum.value)) : ''", "grid": true, "gridDash": [1, 2], "gridColor": "#666", "gridOpacity": {"condition": {"test": "abs(datum.value-round(datum.value))<0.001", "value": 1}, "value": 0}}},
                "y": {"field": "E", "type": "quantitative", "scale": {"domain": [-0.0745, 0.0405], "nice": false, "zero": false},
                  "axis": {"title": "E [Eₕ]", "titlePadding": 12, "tickCount": 57, "tickSize": -3, "labelPadding": 8, "labelExpr": "abs(datum.value*100-round(datum.value*100))<0.001 ? toString(round(datum.value*100)/100) : ''", "grid": true, "gridDash": [1, 2], "gridColor": "#666", "gridOpacity": {"condition": {"test": "abs(datum.value*100-round(datum.value*100))<0.001", "value": 1}, "value": 0}}},
                "detail": {"field": "curve"}
              }
            },
            {
              "data": {"values": [{}]},
              "mark": {"type": "rule", "color": "black", "strokeDash": [4, 2], "strokeWidth": 1},
              "encoding": {"y": {"datum": 0.02}}
            }
          ]
        },
        {
          "width": 392, "height": 285,
          "title": {"text": "Reduced Cᵢ-Hamiltonian", "fontSize": 14, "offset": 7},
          "data": {"name": "curves"},
          "transform": [{"filter": "datum.panel === 'C'"}],
          "layer": [
            {
              "mark": {"type": "line", "clip": true, "color": "black", "strokeWidth": 1.4, "interpolate": "monotone"},
              "encoding": {
                "x": {"field": "R", "type": "quantitative", "scale": {"domain": [4, 12], "nice": false},
                  "axis": {"title": null, "tickCount": 40, "tickSize": -3, "labelPadding": 16, "labelExpr": "abs(datum.value-round(datum.value))<0.001 ? toString(round(datum.value)) : ''", "grid": true, "gridDash": [1, 2], "gridColor": "#666", "gridOpacity": {"condition": {"test": "abs(datum.value-round(datum.value))<0.001", "value": 1}, "value": 0}}},
                "y": {"field": "E", "type": "quantitative", "scale": {"domain": [-0.0745, 0.0405], "nice": false, "zero": false},
                  "axis": {"title": null, "tickCount": 57, "tickSize": -3, "labelPadding": 8, "labelExpr": "abs(datum.value*100-round(datum.value*100))<0.001 ? toString(round(datum.value*100)/100) : ''", "grid": true, "gridDash": [1, 2], "gridColor": "#666", "gridOpacity": {"condition": {"test": "abs(datum.value*100-round(datum.value*100))<0.001", "value": 1}, "value": 0}}},
                "detail": {"field": "curve"}
              }
            },
            {
              "data": {"values": [{}]},
              "mark": {"type": "rule", "color": "black", "strokeDash": [4, 2], "strokeWidth": 1},
              "encoding": {"y": {"datum": 0.02}}
            }
          ]
        }
      ]
    },
    {
      "spacing": 53,
      "hconcat": [
        {
          "data": {"name": "strips"},
          "transform": [{"filter": "datum.panel === 'D'"}],
          "facet": {"row": {"field": "state", "type": "ordinal", "sort": "descending", "header": {"labels": false, "title": "Fractional Error [%]", "titlePadding": 22}}},
          "spacing": {"row": 0},
          "bounds": "flush",
          "spec": {
            "width": 395, "height": 40,
            "layer": [
              {
                "mark": {"type": "line", "clip": true, "color": "black", "strokeWidth": 1, "strokeDash": [8, 3, 1.5, 3], "interpolate": "monotone"},
                "encoding": {
                  "x": {"field": "R", "type": "quantitative", "scale": {"domain": [4, 12], "nice": false}, "axis": {"values": [4, 5, 6, 7, 8, 9, 10, 11, 12], "title": "R [a0]", "tickSize": 5, "labelPadding": 12, "titlePadding": 13}},
                  "y": {"field": "err", "type": "quantitative", "scale": {"domain": [-5, 15], "nice": false, "zero": false}, "axis": {"values": [0, 10], "title": null, "tickSize": 5, "labelPadding": 7}}
                }
              },
              {
                "transform": [{"aggregate": [{"op": "count", "as": "n"}], "groupby": ["state"]}],
                "mark": {"type": "text", "font": "Liberation Mono", "fontSize": 14, "align": "center", "baseline": "middle", "color": "black"},
                "encoding": {"x": {"datum": 11.62}, "y": {"datum": 5}, "text": {"field": "state"}}
              }
            ]
          }
        },
        {
          "data": {"name": "strips"},
          "transform": [{"filter": "datum.panel === 'C'"}],
          "facet": {"row": {"field": "state", "type": "ordinal", "sort": "descending", "header": {"labels": false, "title": null}}},
          "spacing": {"row": 0},
          "bounds": "flush",
          "spec": {
            "width": 395, "height": 40,
            "layer": [
              {
                "mark": {"type": "line", "clip": true, "color": "black", "strokeWidth": 1, "strokeDash": [8, 3, 1.5, 3], "interpolate": "monotone"},
                "encoding": {
                  "x": {"field": "R", "type": "quantitative", "scale": {"domain": [4, 12], "nice": false}, "axis": {"values": [4, 5, 6, 7, 8, 9, 10, 11, 12], "title": "R [a0]", "tickSize": 5, "labelPadding": 12, "titlePadding": 13}},
                  "y": {"field": "err", "type": "quantitative", "scale": {"domain": [-5, 15], "nice": false, "zero": false}, "axis": {"values": [0, 10], "title": null, "tickSize": 5, "labelPadding": 7}}
                }
              },
              {
                "transform": [{"aggregate": [{"op": "count", "as": "n"}], "groupby": ["state"]}],
                "mark": {"type": "text", "font": "Liberation Mono", "fontSize": 14, "align": "center", "baseline": "middle", "color": "black"},
                "encoding": {"x": {"datum": 11.62}, "y": {"datum": 5}, "text": {"field": "state"}}
              }
            ]
          }
        }
      ]
    }
  ]
}
